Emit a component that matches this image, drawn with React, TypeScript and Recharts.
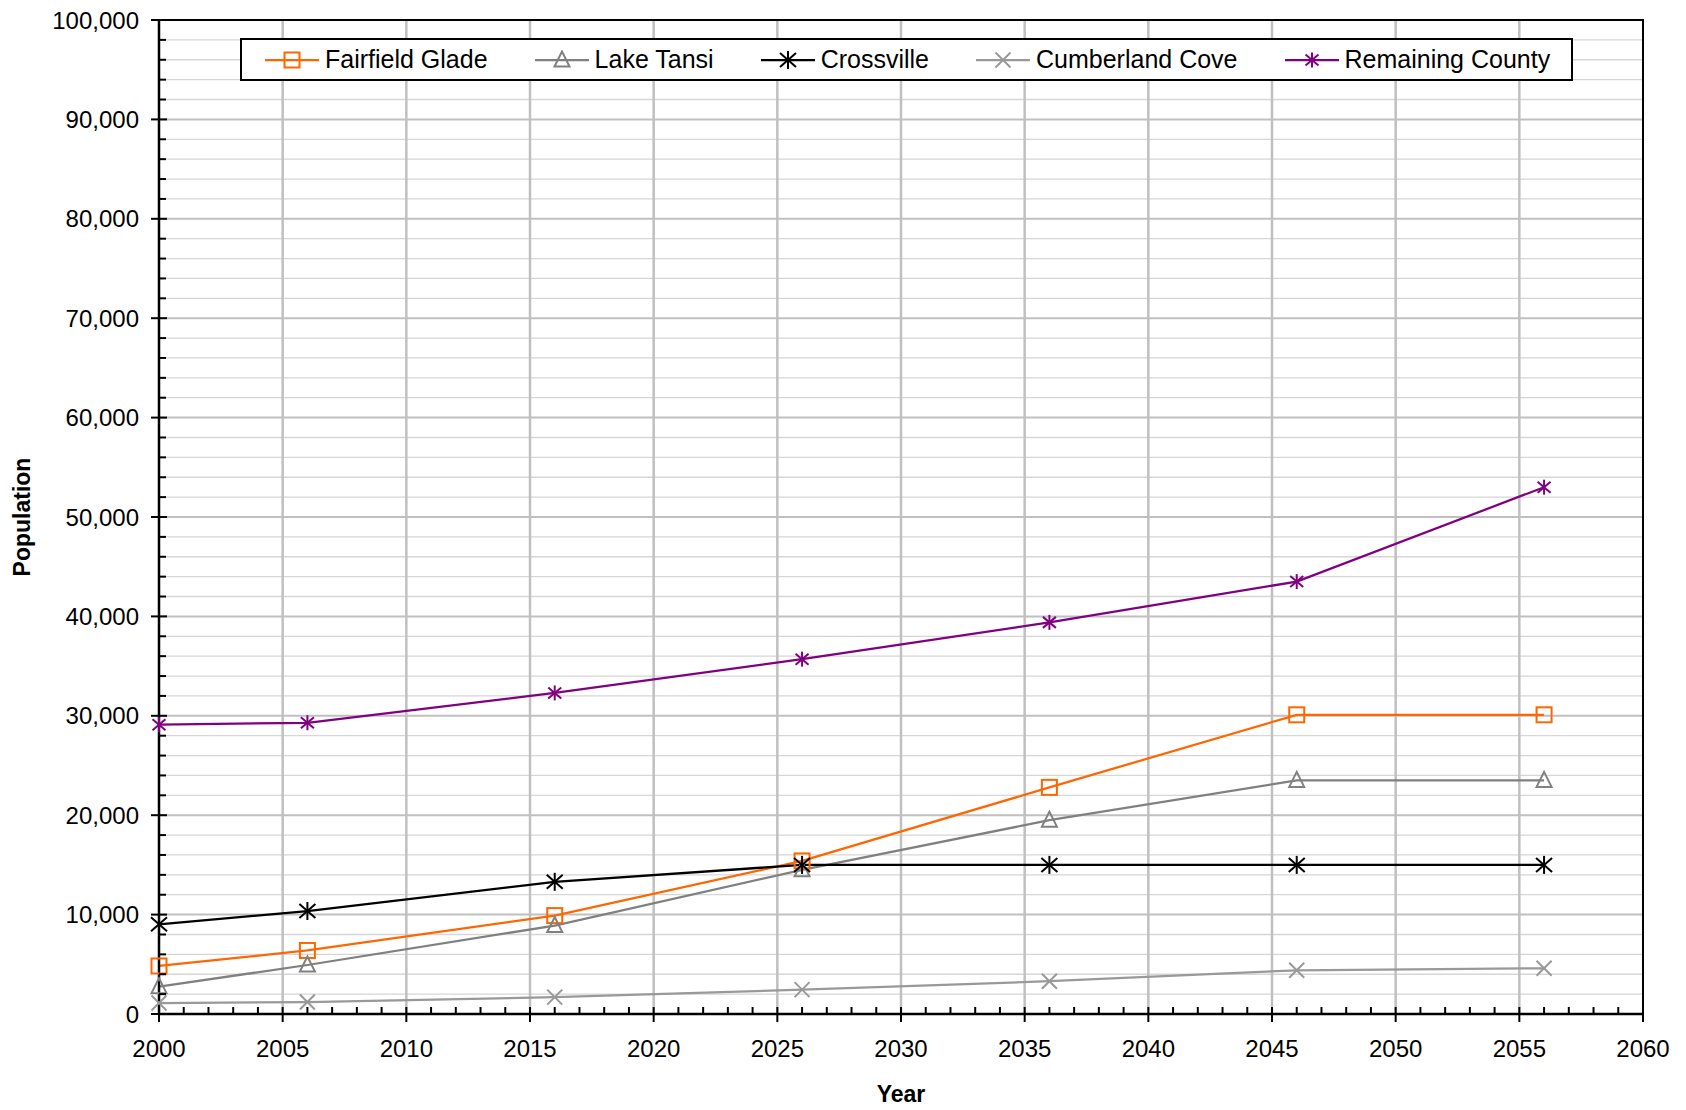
import React from "react"
import {
  LineChart,
  Line,
  XAxis,
  YAxis,
  CartesianGrid,
  ReferenceArea,
} from "recharts"

// ---- data ----
const years = [2000, 2006, 2016, 2026, 2036, 2046, 2056]
const fairfieldGlade = [4830, 6390, 9900, 15400, 22800, 30100, 30100]
const lakeTansi = [2750, 4930, 8900, 14500, 19500, 23500, 23500]
const crossville = [9020, 10360, 13300, 15000, 15000, 15000, 15000]
const cumberlandCove = [1100, 1200, 1700, 2450, 3300, 4400, 4600]
const remainingCounty = [29100, 29300, 32300, 35700, 39400, 43500, 53000]

const xTicks = Array.from({ length: 61 }, (_, i) => 2000 + i)
const xGrid = [2005, 2010, 2015, 2020, 2025, 2030, 2035, 2040, 2045, 2050, 2055]
const yTicks = Array.from({ length: 51 }, (_, i) => i * 2000)
const yMajor = [10000, 20000, 30000, 40000, 50000, 60000, 70000, 80000, 90000]
const yMinor = yTicks.filter((v) => v % 10000 !== 0)

const COLORS = {
  fairfield: "#FF6600",
  tansi: "#808080",
  crossville: "#000000",
  cove: "#999999",
  remaining: "#800080",
  gridMajor: "#c0c0c0",
  gridMinor: "#d6d6d6",
}

const FONT = "Arial, 'Liberation Sans', sans-serif"

const data = years.map((year, i) => ({
  year,
  fairfieldGlade: fairfieldGlade[i],
  lakeTansi: lakeTansi[i],
  crossville: crossville[i],
  cumberlandCove: cumberlandCove[i],
  remainingCounty: remainingCounty[i],
}))

type Shape = "square" | "triangle" | "star" | "x"

function Marker({ cx, cy, shape, color, size = 15 }: { cx: number; cy: number; shape: Shape; color: string; size?: number }) {
  const h = size / 2
  const sw = 2
  if (shape === "square")
    return <rect x={cx - h} y={cy - h} width={size} height={size} fill="none" stroke={color} strokeWidth={sw} />
  if (shape === "triangle")
    return (
      <polygon
        points={`${cx},${cy - h - 1} ${cx - h},${cy + h - 1} ${cx + h},${cy + h - 1}`}
        fill="none"
        stroke={color}
        strokeWidth={sw}
      />
    )
  if (shape === "x")
    return (
      <g stroke={color} strokeWidth={sw}>
        <line x1={cx - h} y1={cy - h} x2={cx + h} y2={cy + h} />
        <line x1={cx - h} y1={cy + h} x2={cx + h} y2={cy - h} />
      </g>
    )
  return (
    <g stroke={color} strokeWidth={sw}>
      <line x1={cx} y1={cy - h - 1} x2={cx} y2={cy + h + 1} />
      <line x1={cx - h} y1={cy - h + 1} x2={cx + h} y2={cy + h - 1} />
      <line x1={cx - h} y1={cy + h - 1} x2={cx + h} y2={cy - h + 1} />
    </g>
  )
}

const dotFor = (shape: Shape, color: string, size?: number) => (p: any) => (
  <g key={`dot-${shape}-${color}-${p.index}`}>
    <Marker cx={p.cx} cy={p.cy} shape={shape} color={color} size={size} />
  </g>
)

const seriesList = [
  { key: "fairfieldGlade", name: "Fairfield Glade", color: COLORS.fairfield, shape: "square" as Shape, size: 15 },
  { key: "lakeTansi", name: "Lake Tansi", color: COLORS.tansi, shape: "triangle" as Shape, size: 15 },
  { key: "crossville", name: "Crossville", color: COLORS.crossville, shape: "star" as Shape, size: 16 },
  { key: "cumberlandCove", name: "Cumberland Cove", color: COLORS.cove, shape: "x" as Shape, size: 15 },
  { key: "remainingCounty", name: "Remaining County", color: COLORS.remaining, shape: "star" as Shape, size: 13 },
]

function XTick(props: any) {
  const { x, y, payload } = props
  const v = payload.value as number
  const major = v % 5 === 0
  return (
    <g>
      {major ? (
        <line x1={x} x2={x} y1={y - 7} y2={y + 8} stroke="#000" strokeWidth={2} />
      ) : (
        <line x1={x} x2={x} y1={y} y2={y - 7} stroke="#000" strokeWidth={2} />
      )}
      {major && (
        <text x={x} y={y + 34} textAnchor="middle" dominantBaseline="central" fontSize={24} fill="#000" fontFamily={FONT}>
          {v}
        </text>
      )}
    </g>
  )
}

function YTick(props: any) {
  const { x, y, payload } = props
  const v = payload.value as number
  const major = v % 10000 === 0
  return (
    <g>
      {major ? (
        <line x1={x - 8} x2={x + 8} y1={y} y2={y} stroke="#000" strokeWidth={2} />
      ) : (
        <line x1={x} x2={x + 7} y1={y} y2={y} stroke="#000" strokeWidth={2} />
      )}
      {major && (
        <text x={x - 20} y={y} textAnchor="end" dominantBaseline="central" fontSize={24} fill="#000" fontFamily={FONT}>
          {v.toLocaleString("en-US")}
        </text>
      )}
    </g>
  )
}

function YTitle(props: any) {
  const vb = props.viewBox || { x: 0, y: 0, width: 0, height: 0 }
  const cx = vb.x + 13.5
  const cy = vb.y + vb.height / 2
  return (
    <text
      x={cx}
      y={cy}
      transform={`rotate(-90, ${cx}, ${cy})`}
      textAnchor="middle"
      dominantBaseline="central"
      fontSize={23}
      fontWeight="bold"
      fill="#000"
      fontFamily={FONT}
    >
      Population
    </text>
  )
}

function XTitle(props: any) {
  const vb = props.viewBox || { x: 0, y: 0, width: 0, height: 0 }
  return (
    <text
      x={vb.x + vb.width / 2}
      y={vb.y + 79.5}
      textAnchor="middle"
      dominantBaseline="central"
      fontSize={23}
      fontWeight="bold"
      fill="#000"
      fontFamily={FONT}
    >
      Year
    </text>
  )
}

function ChartLegend() {
  return (
    <div
      style={{
        position: "absolute",
        left: 232,
        top: 30,
        width: 1333,
        height: 43,
        boxSizing: "border-box",
        border: "2px solid #000",
        background: "#fff",
        display: "flex",
        alignItems: "center",
        paddingLeft: 23,
        gap: 47,
        fontFamily: FONT,
        fontSize: 25,
        color: "#000",
        whiteSpace: "nowrap",
      }}
    >
      {seriesList.map((s) => (
        <div key={s.key} style={{ display: "flex", alignItems: "center" }}>
          <svg width={54} height={20} style={{ display: "block" }}>
            <line x1={0} x2={54} y1={10} y2={10} stroke={s.color} strokeWidth={2.25} />
            <Marker cx={27} cy={10} shape={s.shape} color={s.color} size={s.size} />
          </svg>
          <span style={{ marginLeft: 6, lineHeight: "25px" }}>{s.name}</span>
        </div>
      ))}
    </div>
  )
}

export default function App() {
  return (
    <div style={{ position: "relative", width: 1670, height: 1100, background: "#fff" }}>
      <LineChart width={1670} height={1100} data={data} margin={{ top: 12, right: 35, left: 0, bottom: 0 }}>
        <CartesianGrid horizontalValues={yMinor} vertical={false} stroke={COLORS.gridMinor} strokeWidth={1.3} />
        <CartesianGrid horizontalValues={yMajor} vertical={false} stroke={COLORS.gridMajor} strokeWidth={2} />
        <CartesianGrid verticalValues={xGrid} horizontal={false} stroke={COLORS.gridMajor} strokeWidth={2.5} />
        <ReferenceArea x1={2000} x2={2060} y1={0} y2={100000} fill="none" stroke="#000" strokeWidth={2} />
        <XAxis
          dataKey="year"
          type="number"
          domain={[2000, 2060]}
          ticks={xTicks}
          interval={0}
          tickSize={0}
          tickMargin={0}
          tickLine={false}
          axisLine={{ stroke: "#000", strokeWidth: 2.5 }}
          tick={<XTick />}
          height={94}
          label={<XTitle />}
        />
        <YAxis
          type="number"
          domain={[0, 100000]}
          ticks={yTicks}
          interval={0}
          tickSize={0}
          tickMargin={0}
          tickLine={false}
          axisLine={{ stroke: "#000", strokeWidth: 2.5 }}
          tick={<YTick />}
          width={151}
          label={<YTitle />}
        />
        {seriesList.map((s) => (
          <Line
            key={s.key}
            type="linear"
            dataKey={s.key}
            name={s.name}
            stroke={s.color}
            strokeWidth={2.25}
            dot={dotFor(s.shape, s.color, s.size)}
            activeDot={false}
            isAnimationActive={false}
          />
        ))}
      </LineChart>
      <ChartLegend />
    </div>
  )
}
